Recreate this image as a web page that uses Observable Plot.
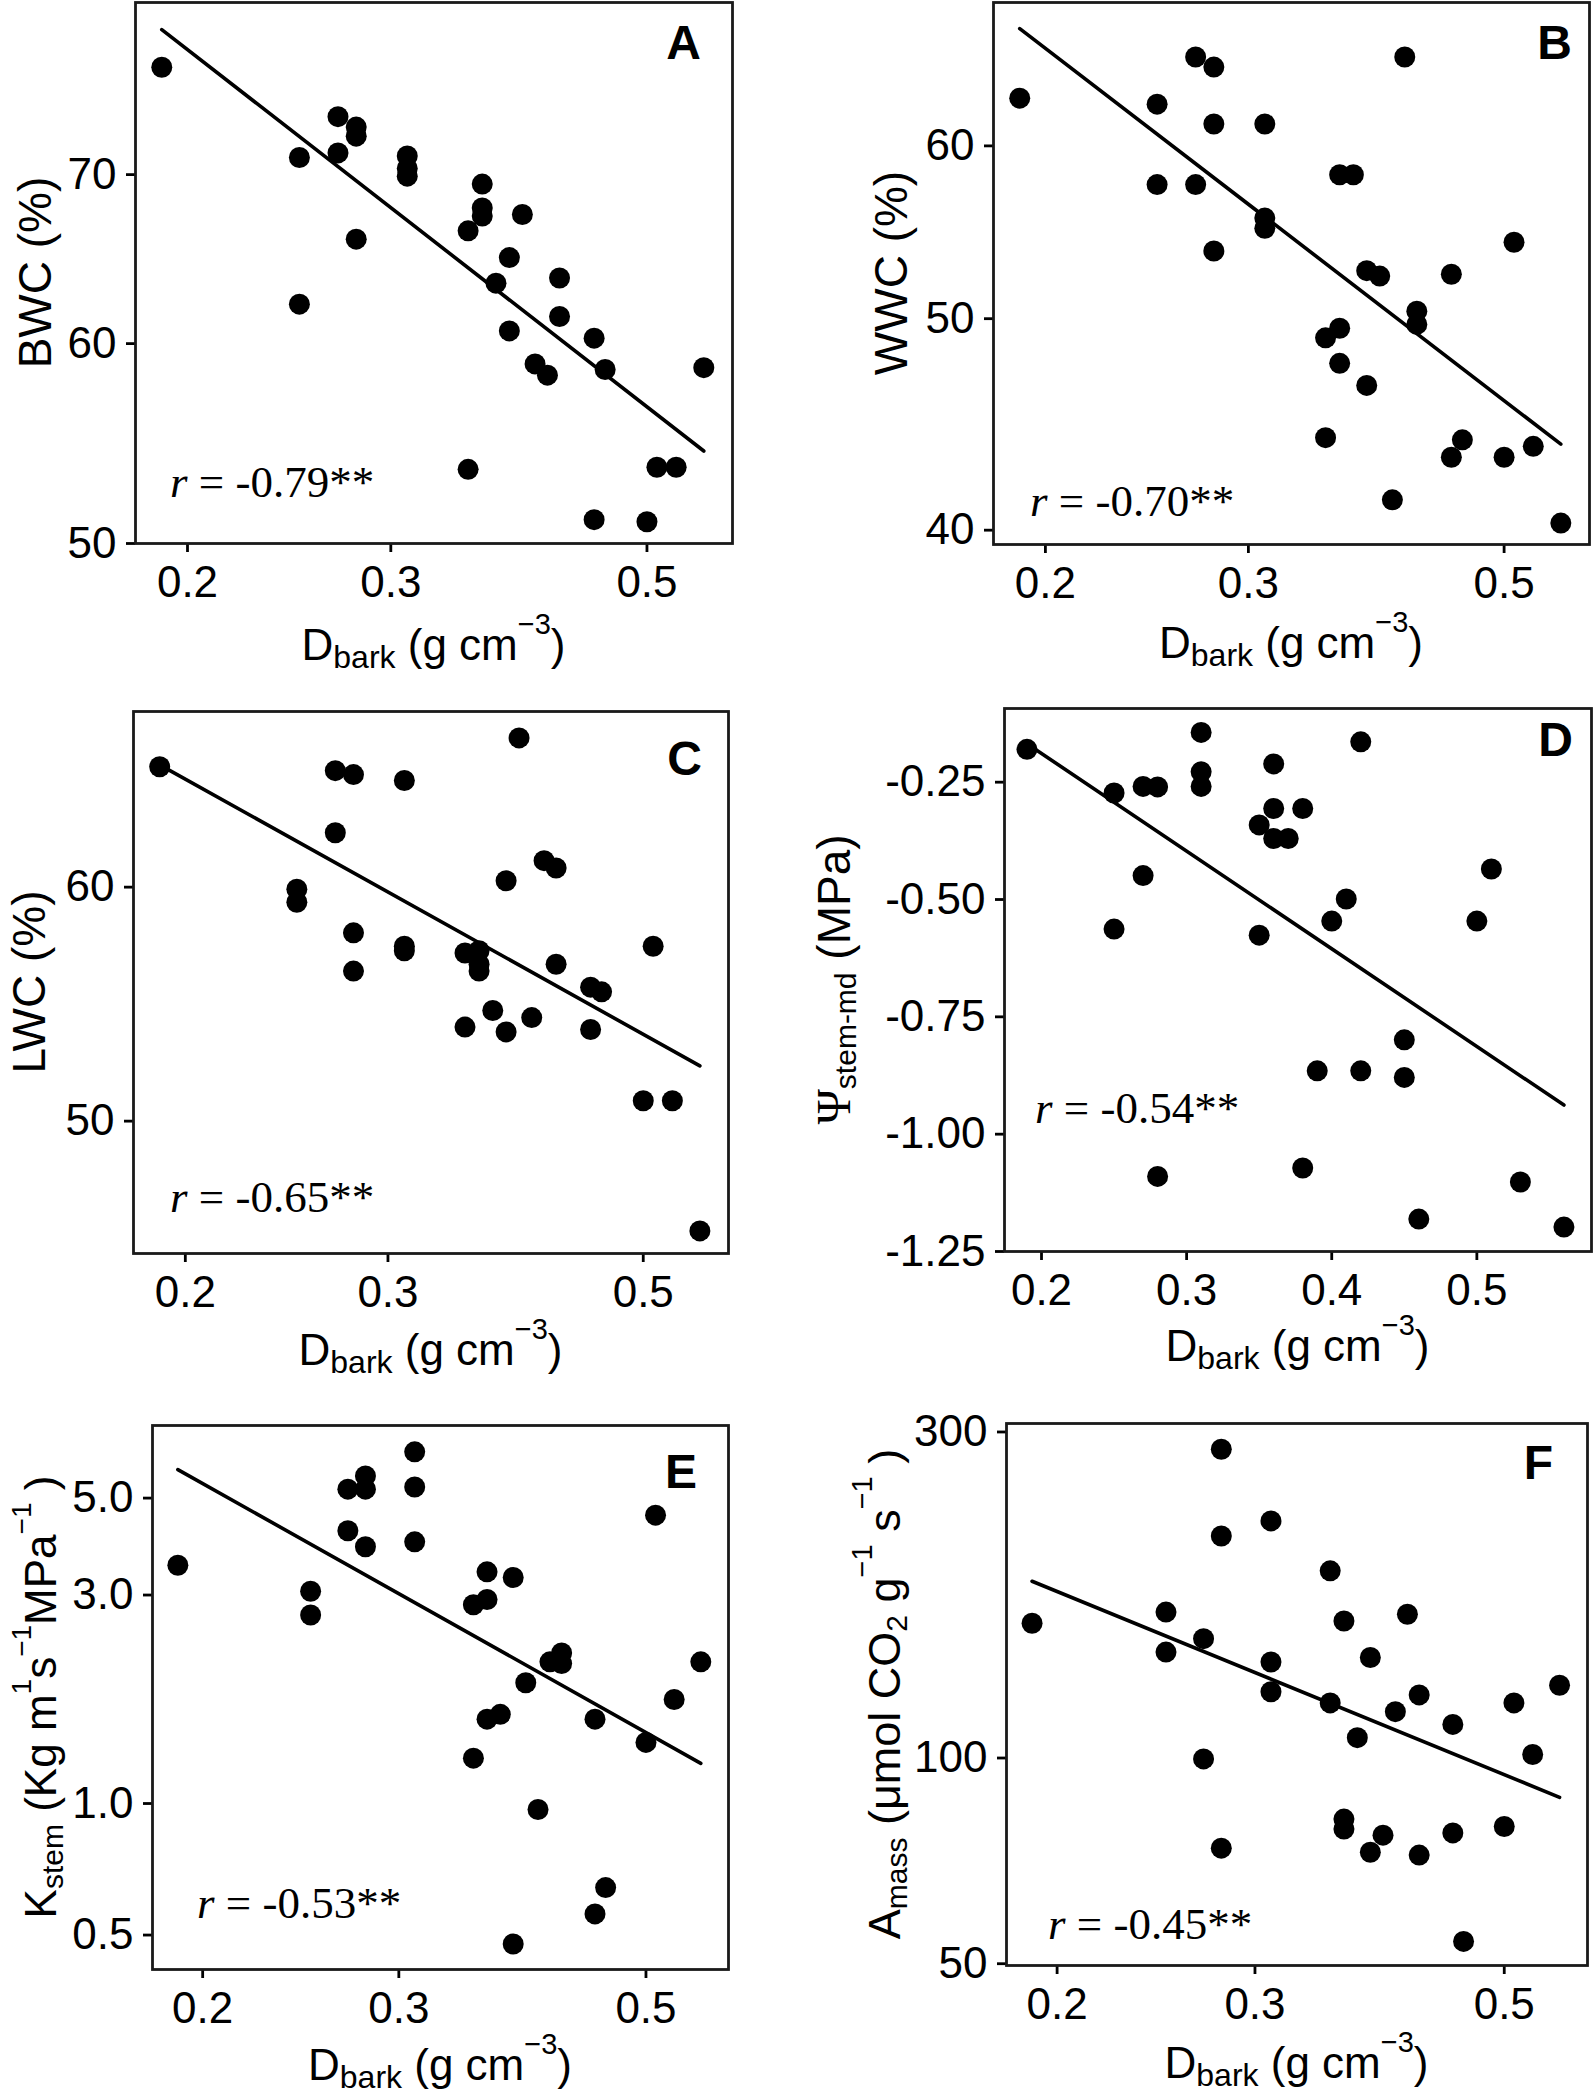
<!DOCTYPE html>
<html><head><meta charset="utf-8">
<script src="https://cdn.jsdelivr.net/npm/d3@7"></script>
<script src="https://cdn.jsdelivr.net/npm/@observablehq/plot@0.6"></script>
<style>
body{margin:0;background:#fff;}
#fig{position:relative;width:1594px;height:2096px;background:#fff;overflow:hidden;}
#fig svg{position:absolute;}
</style></head><body><div id="fig"></div>
<script>
// ---------- data ----------
const xTicksLog = [0.2, 0.3, 0.5];
const xTicksLin = [0.2, 0.3, 0.4, 0.5];

const aX = [0.19,0.25,0.25,0.27,0.27,0.28,0.28,0.28,0.31,0.31,0.31,0.35,0.35,0.36,0.36,0.36,0.37,0.38,0.38,0.39,0.40,0.41,0.42,0.42,0.45,0.45,0.46,0.50,0.51,0.53,0.56];
const aY = [77.2,71.1,62.2,73.8,71.4,73.1,72.5,66.0,71.2,70.4,69.9,66.5,53.5,69.4,67.9,67.4,63.4,64.9,60.7,67.5,58.9,58.3,63.7,61.5,60.3,51.1,58.6,51.0,53.6,53.6,58.7];
const aFitX = [0.19, 0.56], aFitY = [79.9, 54.4];
const aTicks = [50, 60, 70];

const bX = [0.19,0.25,0.25,0.27,0.27,0.28,0.28,0.28,0.31,0.31,0.31,0.35,0.35,0.36,0.36,0.36,0.37,0.38,0.38,0.39,0.40,0.41,0.42,0.42,0.45,0.45,0.46,0.50,0.51,0.53,0.56];
const bY = [63.1,62.7,57.6,65.9,57.6,65.2,61.4,53.7,61.4,55.6,55.0,49.0,44.1,58.2,49.5,47.7,58.2,52.6,46.6,52.3,41.3,65.9,50.4,49.7,52.4,43.2,44.0,43.2,54.2,43.7,40.3];
const bFitX = [0.19, 0.56], bFitY = [67.9, 43.8];
const bTicks = [40, 50, 60];

const cX = [0.19,0.25,0.25,0.27,0.27,0.28,0.28,0.28,0.31,0.31,0.31,0.35,0.35,0.36,0.36,0.36,0.37,0.38,0.38,0.39,0.40,0.41,0.42,0.42,0.45,0.45,0.46,0.50,0.51,0.53,0.56];
const cY = [65.9,59.9,59.3,65.7,62.6,65.5,57.9,56.2,65.2,57.3,57.1,57.0,53.8,57.1,56.5,56.2,54.5,60.3,53.6,67.4,54.2,61.25,60.9,56.5,55.5,53.7,55.3,50.8,57.3,50.8,45.9];
const cFitX = [0.19, 0.56], cFitY = [66.0, 52.2];
const cTicks = [50, 60];

const dX = [0.19,0.25,0.25,0.27,0.27,0.28,0.28,0.31,0.31,0.31,0.35,0.35,0.36,0.36,0.36,0.37,0.38,0.38,0.39,0.40,0.41,0.42,0.42,0.45,0.45,0.46,0.50,0.51,0.53,0.56];
const dY = [-0.18,-0.273,-0.563,-0.259,-0.449,-0.26,-1.09,-0.144,-0.228,-0.259,-0.341,-0.576,-0.211,-0.306,-0.370,-0.370,-0.306,-1.072,-0.865,-0.546,-0.499,-0.164,-0.865,-0.799,-0.879,-1.181,-0.546,-0.435,-1.102,-1.198];
const dFitX = [0.19, 0.56], dFitY = [-0.168, -0.938];
const dTicks = [-1.25, -1.0, -0.75, -0.5, -0.25];

const eX = [0.19,0.25,0.25,0.27,0.27,0.28,0.28,0.28,0.31,0.31,0.31,0.35,0.35,0.36,0.36,0.36,0.37,0.38,0.38,0.39,0.40,0.41,0.42,0.42,0.45,0.45,0.46,0.50,0.51,0.53,0.56];
const eY = [3.51,3.06,2.70,5.24,4.21,5.62,5.24,3.87,6.38,5.30,3.97,2.85,1.27,3.39,2.93,1.56,1.60,3.29,0.477,1.89,0.969,2.11,2.21,2.09,1.56,0.559,0.642,1.38,4.57,1.73,2.11];
const eFitX = [0.19, 0.56], eFitY = [5.81, 1.236];
const eTicks = [0.5, 1.0, 3.0, 5.0];

const fX = [0.19,0.25,0.25,0.27,0.27,0.28,0.28,0.28,0.31,0.31,0.31,0.35,0.35,0.36,0.36,0.36,0.37,0.38,0.38,0.39,0.40,0.41,0.42,0.42,0.45,0.45,0.46,0.50,0.51,0.53,0.56];
const fY = [157.5,163.5,142.9,149.5,99.7,283,211.3,73.8,222.3,138.2,125.0,187.9,120.4,158.7,81.4,78.7,107.1,140.3,72.8,77.1,116.9,162.3,123.7,72.1,112.0,77.7,53.9,79.4,120.4,101.2,127.8];
const fFitX = [0.19, 0.56], fFitY = [181.4, 87.6];
const fTicks = [50, 100, 300];

const rTexts = {A: " = -0.79**", B: " = -0.70**", C: " = -0.65**", D: " = -0.54**", E: " = -0.53**", F: " = -0.45**"};

// ---------- layout ----------
const SANS = "'Liberation Sans', Arial, Helvetica, sans-serif";
const SERIF = "'Liberation Serif', 'Times New Roman', serif";
const sup = (t) => ({t, s: 29, b: -28});
const supE = (t) => ({t, s: 28, b: -25});
const sub = (t) => ({t, s: 30, b: 7});
const xLabel = [{t:"D", s:44}, {t:"bark", s:32, b:8}, {t:" (g cm", s:44}, {t:"\u22123", s:29, b:-26}, {t:")", s:44}];

const panels = [
  {id:"A", X:aX, Y:aY, FX:aFitX, FY:aFitY, yTicks:aTicks, yType:"log", yDom:[50,81.9], fmt:d=>String(d),
   left:0, top:0, h:700, ml:135, mr:65, mt:2, mb:157,
   yLab:[{t:"BWC (%)", s:46}], yLabOff:84, xLabOff:117, rPos:[170,497], letPos:[701,59]},
  {id:"B", X:bX, Y:bY, FX:bFitX, FY:bFitY, yTicks:bTicks, yType:"log", yDom:[39.4,69.8], fmt:d=>String(d),
   left:797, top:0, h:700, ml:196, mr:5, mt:2, mb:156,
   yLab:[{t:"WWC (%)", s:46}], yLabOff:86, xLabOff:114, rPos:[1030,516], letPos:[1572,59]},
  {id:"C", X:cX, Y:cY, FX:cFitX, FY:cFitY, yTicks:cTicks, yType:"log", yDom:[45.1,68.8], fmt:d=>String(d),
   left:0, top:700, h:700, ml:133, mr:69, mt:11, mb:147,
   yLab:[{t:"LWC (%)", s:46}], yLabOff:88, xLabOff:112, rPos:[170,1212], letPos:[702,775]},
  {id:"D", X:dX, Y:dY, FX:dFitX, FY:dFitY, yTicks:dTicks, yType:"linear", yDom:[-1.25,-0.093], fmt:d=>d.toFixed(2),
   xType:"linear", xDom:[0.1745,0.579], xTicks:xTicksLin,
   left:797, top:700, h:700, ml:207, mr:3, mt:8, mb:149,
   yLab:[{t:"\u03A8", s:48, f:SERIF}, {t:"stem-md", s:30, b:6}, {t:" (MPa)", s:46}], yLabOff:154, xLabOff:110, rPos:[1035,1123], letPos:[1573,756]},
  {id:"E", X:eX, Y:eY, FX:eFitX, FY:eFitY, yTicks:eTicks, yType:"log", yDom:[0.417,7.33], fmt:d=>d.toFixed(1),
   left:0, top:1400, h:696, ml:152, mr:69, mt:25, mb:127,
   yLab:[{t:"K", s:44}, sub("stem"), {t:" (Kg m", s:44}, supE("1"), {t:"s", s:44}, supE("\u22121"), {t:"MPa", s:44}, supE("\u22121"), {t:" )", s:44}],
   yLabOff:96, xLabOff:111, rPos:[197,1918], letPos:[697,1488]},
  {id:"F", X:fX, Y:fY, FX:fFitX, FY:fFitY, yTicks:fTicks, yType:"log", yDom:[49.7,308.7], fmt:d=>String(d),
   left:797, top:1400, h:696, ml:209, mr:7, mt:23, mb:131,
   yLab:[{t:"A", s:45}, sub("mass"), {t:" (\u03BCmol CO", s:45}, sub("2"), {t:" g", s:45}, sup("\u22121"), {t:" s", s:45}, sup("\u22121"), {t:" )", s:45}],
   yLabOff:106, xLabOff:113, rPos:[1048,1939], letPos:[1553,1479]}
];

function richText(svg, x, y, parts, {anchor="start", rotate=false, family=SANS, weight=null} = {}) {
  const t = d3.select(svg).append("text")
    .attr("text-anchor", anchor).attr("font-family", family).attr("fill", "#000")
    .style("white-space", "pre");
  if (rotate) t.attr("transform", `translate(${x},${y}) rotate(-90)`).attr("x", 0).attr("y", 0);
  else t.attr("x", x).attr("y", y);
  if (weight) t.attr("font-weight", weight);
  let prev = 0;
  for (const p of parts) {
    const b = p.b || 0;
    const ts = t.append("tspan").attr("font-size", p.s).attr("dy", b - prev).text(p.t);
    if (p.f) ts.attr("font-family", p.f);
    if (p.i) ts.attr("font-style", "italic");
    prev = b;
  }
}

const fig = document.getElementById("fig");
for (const p of panels) {
  const W = 797;
  const pts = p.X.map((x, i) => ({x, y: p.Y[i]}));
  const fit = p.FX.map((x, i) => ({x, y: p.FY[i]}));
  const chart = Plot.plot({
    width: W, height: p.h,
    marginLeft: p.ml, marginRight: p.mr, marginTop: p.mt, marginBottom: p.mb,
    style: {fontFamily: SANS, color: "#000", background: "transparent", overflow: "visible"},
    x: {type: p.xType || "log", domain: p.xDom || [0.1803, 0.593]},
    y: {type: p.yType, domain: p.yDom},
    marks: [
      Plot.axisX({ticks: p.xTicks || xTicksLog, tickFormat: d => d.toFixed(1), tickSize: 9, tickPadding: 13,
                  fontSize: 44, strokeWidth: 2.8, label: null}),
      Plot.axisY({ticks: p.yTicks, tickFormat: p.fmt, tickSize: 9, tickPadding: 10,
                  fontSize: 44, strokeWidth: 2.8, label: null}),
      Plot.line(fit, {x: "x", y: "y", stroke: "#000", strokeWidth: 3.6}),
      Plot.dot(pts, {x: "x", y: "y", r: 10.5, fill: "#000", stroke: "none"}),
      Plot.frame({stroke: "#1a1a1a", strokeWidth: 2.8})
    ]
  });
  chart.style.left = p.left + "px";
  chart.style.top = p.top + "px";
  fig.appendChild(chart);

  const fL = p.ml, fR = W - p.mr, fT = p.mt, fB = p.h - p.mb;
  richText(chart, (fL + fR) / 2, fB + p.xLabOff, xLabel, {anchor: "middle"});
  richText(chart, fL - p.yLabOff, (fT + fB) / 2, p.yLab, {anchor: "middle", rotate: true});
  richText(chart, p.rPos[0] - p.left, p.rPos[1] - p.top, [{t: "r", s: 45, i: true}, {t: rTexts[p.id], s: 45}], {family: SERIF});
  richText(chart, p.letPos[0] - p.left, p.letPos[1] - p.top, [{t: p.id, s: 48}], {anchor: "end", weight: "bold"});
}
</script></body></html>
